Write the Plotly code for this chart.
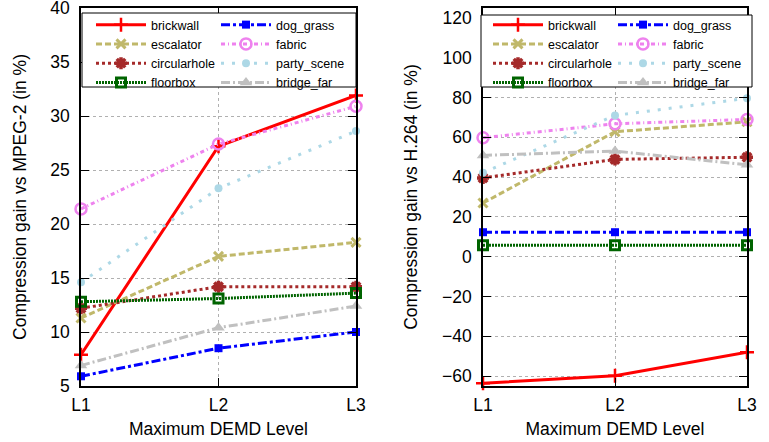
import plotly.graph_objects as go
from plotly.subplots import make_subplots

levels = ["L1", "L2", "L3"]
series_names = ["brickwall", "escalator", "circularhole", "floorbox",
                "dog_grass", "fabric", "party_scene", "bridge_far"]

# Compression gain vs MPEG-2 (%)
mpeg2_brickwall = [7.9, 27.2, 31.9]
mpeg2_escalator = [11.3, 17.0, 18.3]
mpeg2_circularhole = [12.2, 14.2, 14.2]
mpeg2_floorbox = [12.8, 13.1, 13.6]
mpeg2_dog_grass = [5.9, 8.5, 10.0]
mpeg2_fabric = [21.4, 27.4, 30.9]
mpeg2_party_scene = [14.6, 23.3, 28.6]
mpeg2_bridge_far = [6.9, 10.4, 12.4]

# Compression gain vs H.264 (%)
h264_brickwall = [-63.6, -59.8, -48.0]
h264_escalator = [27.0, 62.8, 67.8]
h264_circularhole = [39.6, 48.9, 50.0]
h264_floorbox = [5.7, 5.7, 5.7]
h264_dog_grass = [12.3, 12.3, 12.3]
h264_fabric = [59.8, 66.8, 69.0]
h264_party_scene = [42.2, 71.0, 79.6]
h264_bridge_far = [50.9, 53.1, 46.2]

mpeg2 = [mpeg2_brickwall, mpeg2_escalator, mpeg2_circularhole, mpeg2_floorbox,
         mpeg2_dog_grass, mpeg2_fabric, mpeg2_party_scene, mpeg2_bridge_far]
h264 = [h264_brickwall, h264_escalator, h264_circularhole, h264_floorbox,
        h264_dog_grass, h264_fabric, h264_party_scene, h264_bridge_far]

styles = {
    "brickwall": dict(color="#ff0000", dash="solid", symbol="cross-thin-open", size=10, mlw=2.5),
    "dog_grass": dict(color="#0000ff", dash="9px,3px,3px,3px", symbol="square", size=8, mlw=0),
    "escalator": dict(color="#c0b86a", dash="6px,3px", symbol="x-thin-open", size=9, mlw=3),
    "fabric": dict(color="#ee82ee", dash="4px,3px,1px,3px", symbol="circle-open", size=11, mlw=2.5),
    "circularhole": dict(color="#a52a2a", dash="3px,3px", symbol="asterisk-open", size=10, mlw=3.5),
    "party_scene": dict(color="#add8e6", dash="3px,8px", symbol="circle", size=8, mlw=0),
    "floorbox": dict(color="#006400", dash="2px,1px", symbol="square-open", size=9, mlw=3),
    "bridge_far": dict(color="#c0c0c0", dash="9px,3px,2px,3px", symbol="triangle-up", size=11, mlw=0),
}

FONT = "Liberation Sans, Arial, sans-serif"
W, H = 769, 442

fig = make_subplots(rows=1, cols=2, horizontal_spacing=0.1)

# legends: two columns per subplot
legend_ids = {1: ("legend", "legend2"), 2: ("legend3", "legend4")}
for col, data in [(1, mpeg2), (2, h264)]:
    for i, (name, vals) in enumerate(zip(series_names, data)):
        s = styles[name]
        fig.add_trace(go.Scatter(
            x=levels, y=vals, name=name, mode="lines+markers",
            line=dict(color=s["color"], width=3, dash=s["dash"]),
            marker=dict(symbol=s["symbol"], size=s["size"], color=s["color"],
                        line=dict(color=s["color"], width=s["mlw"])),
            cliponaxis=False, legend=legend_ids[col][0 if i < 4 else 1],
            showlegend=True,
        ), row=1, col=col)

axis_common = dict(
    automargin=False, ticklabeloverflow="allow",
    showline=True, linecolor="black", linewidth=1.5, mirror="allticks",
    ticks="inside", ticklen=8, tickwidth=1.2, tickcolor="black",
    showgrid=True, gridcolor="#b0b0b0", griddash="dot", gridwidth=1,
    zeroline=False,
    tickfont=dict(family=FONT, size=17.5, color="black"),
    title_font=dict(family=FONT, size=17.5, color="black"),
)

fig.update_xaxes(**axis_common, type="category", range=[0, 2],
                 ticklabelstandoff=2,
                 title_text="Maximum DEMD Level", title_standoff=9)
fig.update_xaxes(domain=[81 / W, 356 / W], row=1, col=1)
fig.update_xaxes(domain=[483 / W, 747 / W], row=1, col=2)

fig.update_yaxes(**axis_common, ticklabelstandoff=6)
fig.update_yaxes(range=[5, 40], dtick=5, domain=[1 - 386 / H, 1 - 8 / H],
                 title_text="Compression gain vs MPEG-2 (in %)", title_standoff=19,
                 row=1, col=1)
fig.update_yaxes(range=[-65, 125], tickvals=[-60, -40, -20, 0, 20, 40, 60, 80, 100, 120],
                 domain=[1 - 386 / H, 1 - 8 / H],
                 title_text="Compression gain vs H.264 (in %)", title_standoff=20,
                 row=1, col=2)

legend_common = dict(
    orientation="v", xanchor="left", yanchor="top",
    bgcolor="rgba(0,0,0,0)", borderwidth=0,
    font=dict(family=FONT, size=12.5, color="black"),
    itemwidth=50, tracegroupgap=0,
)
fig.update_layout(
    template="none",
    width=W, height=H,
    margin=dict(l=0, r=0, t=0, b=0),
    plot_bgcolor="white", paper_bgcolor="white",
    legend=dict(**legend_common, x=91 / W, y=1 - 10 / H),
    legend2=dict(**legend_common, x=216 / W, y=1 - 10 / H),
    legend3=dict(**legend_common, x=488 / W, y=1 - 10 / H),
    legend4=dict(**legend_common, x=613 / W, y=1 - 10 / H),
    font=dict(family=FONT, color="black"),
    shapes=[
        dict(type="rect", xref="paper", yref="paper",
             x0=82 / W, x1=356 / W, y0=1 - 87 / H, y1=1 - 13 / H,
             fillcolor="white", line=dict(color="black", width=1), layer="above"),
        dict(type="rect", xref="paper", yref="paper",
             x0=481 / W, x1=752 / W, y0=1 - 87 / H, y1=1 - 15 / H,
             fillcolor="white", line=dict(color="black", width=1), layer="above"),
    ],
)

fig.write_html("out.html")
